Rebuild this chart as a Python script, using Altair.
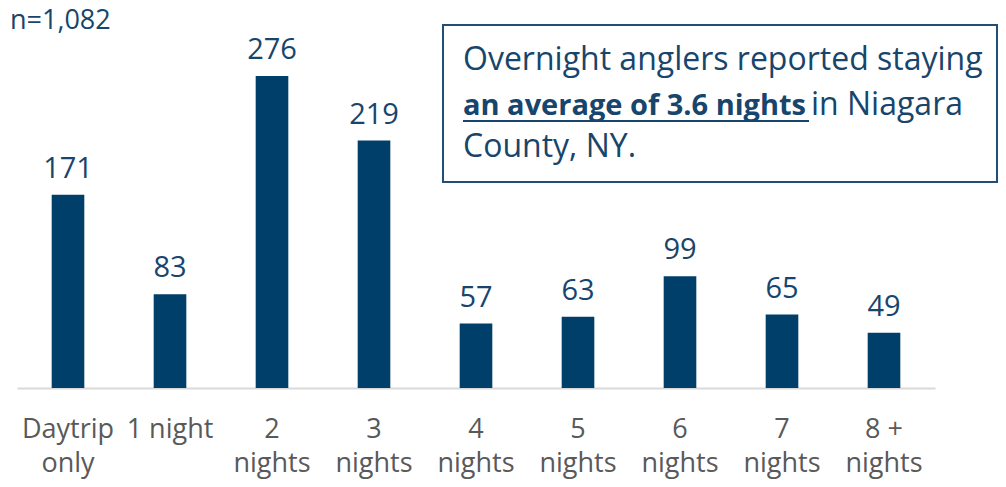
import altair as alt
import pandas as pd

categories = ["Daytrip|only", "1 night", "2|nights", "3|nights", "4|nights",
              "5|nights", "6|nights", "7|nights", "8 +|nights"]
counts = [171, 83, 276, 219, 57, 63, 99, 65, 49]
sample_note = "n=1,082"
callout_line1 = "Overnight anglers reported staying"
callout_bold = "an average of 3.6 nights"
callout_rest = "in Niagara"
callout_line3 = "County, NY."

BAR = "#003f69"
TXT = "#17456b"
FONT = "Open Sans"

df = pd.DataFrame({"cat": categories, "n": counts})

W, H = 918, 339

base = alt.Chart(df).encode(
    x=alt.X("cat:N", sort=None,
            scale=alt.Scale(paddingInner=0.68, paddingOuter=0.34),
            axis=alt.Axis(title=None, labelExpr="split(datum.value,'|')",
                          labelFontSize=27, labelColor="#595959", labelFont=FONT,
                          domainColor="#d9d9d9", domainWidth=2, ticks=False,
                          labelPadding=28, labelLineHeight=34, labelAngle=0)),
    y=alt.Y("n:Q", scale=alt.Scale(domain=[0, 300]), axis=None),
)

bars = base.mark_bar(color=BAR)
vals = base.mark_text(baseline="alphabetic", dy=-17, fontSize=29, font=FONT, color=TXT).encode(
    text=alt.Text("n:Q"))

one = pd.DataFrame({"a": [0]})
note = alt.Chart(one).mark_text(align="left", baseline="alphabetic", fontSize=27, font=FONT, color=TXT).encode(
    x=alt.value(-7), y=alt.value(-20), text=alt.value(sample_note))

box = alt.Chart(one).mark_rect(fill="white", stroke="#1f4e79", strokeWidth=2).encode(
    x=alt.value(426), x2=alt.value(980), y=alt.value(-24), y2=alt.value(133))

l1 = alt.Chart(one).mark_text(align="left", baseline="alphabetic", fontSize=32, font=FONT, color=TXT).encode(
    x=alt.value(446), y=alt.value(21), text=alt.value(callout_line1))
l2b = alt.Chart(one).mark_text(align="left", baseline="alphabetic", fontSize=29, font=FONT, color=TXT,
                               fontWeight="bold").encode(
    x=alt.value(446), y=alt.value(66), text=alt.value(callout_bold))
l2r = alt.Chart(one).mark_text(align="left", baseline="alphabetic", fontSize=32, font=FONT, color=TXT).encode(
    x=alt.value(794), y=alt.value(66), text=alt.value(callout_rest))
ul = alt.Chart(one).mark_rule(color=TXT, strokeWidth=2).encode(
    x=alt.value(446), x2=alt.value(792), y=alt.value(72))
l3 = alt.Chart(one).mark_text(align="left", baseline="alphabetic", fontSize=32, font=FONT, color=TXT).encode(
    x=alt.value(446), y=alt.value(108), text=alt.value(callout_line3))

chart = alt.layer(bars, vals, note, box, l1, l2b, l2r, ul, l3).properties(
    width=W, height=H,
    autosize=alt.AutoSizeParams(type="none"),
    padding={"left": 9, "top": 41, "right": 63, "bottom": 91},
).configure_view(stroke=None)

chart.save("out.html", embed_options={"renderer": "svg", "actions": False})
